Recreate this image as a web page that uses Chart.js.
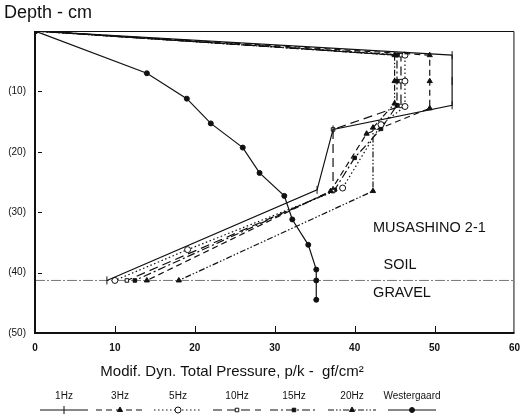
<!DOCTYPE html>
<html>
<head>
<meta charset="utf-8">
<script src="https://cdn.jsdelivr.net/npm/chart.js@4/dist/chart.umd.min.js"></script>
<style>
  html, body { margin: 0; padding: 0; background: #fff; }
</style>
</head>
<body>
<canvas id="pressureChart" width="529" height="416"></canvas>
<script>
// pressure (gf/cm2) vs depth (cm) for each excitation frequency
const hz1X = [0, 52.2, 52.2, 52.2, 37.3, 35.3, 9.0];
const hz1D = [0, 4.0, 8.3, 12.3, 16.3, 26.3, 41.3];
const hz3X = [0, 49.4, 49.4, 49.4, 41.5, 37.0, 14.0];
const hz3D = [0, 4.0, 8.3, 12.8, 17.0, 26.5, 41.3];
const hz5X = [0, 46.3, 46.3, 46.3, 43.3, 38.5, 19.1, 10.0];
const hz5D = [0, 4.0, 8.3, 12.5, 15.5, 26.0, 36.2, 41.3];
const hz10X = [0, 45.8, 45.8, 45.8, 37.3, 37.3, 11.5];
const hz10D = [0, 4.0, 8.3, 12.4, 16.3, 26.5, 41.3];
const hz15X = [0, 45.3, 45.3, 45.3, 43.3, 40.0, 37.5, 12.5];
const hz15D = [0, 4.0, 8.3, 12.3, 16.2, 21.0, 26.3, 41.3];
const hz20X = [0, 45.0, 45.0, 45.0, 42.3, 42.3, 18.0];
const hz20D = [0, 4.0, 8.3, 12.0, 16.0, 26.5, 41.3];
const westX = [0, 14.0, 19.0, 22.0, 26.0, 28.1, 31.2, 32.2, 34.2, 35.2, 35.2, 35.2];
const westD = [0, 7.0, 11.2, 15.3, 19.3, 23.5, 27.3, 31.2, 35.4, 39.5, 41.3, 44.5];

// soil / gravel boundary
const boundaryX = [0, 60];
const boundaryD = [41.3, 41.3];

const xTicks = [0, 10, 20, 30, 40, 50, 60];
const depthTicks = [0, 10, 20, 30, 40, 50];

const pts = (xs, ds) => xs.map((x, i) => ({ x: x, y: ds[i] }));

function series(label, xs, ds, dash, style, fill, radius, rotation) {
  return {
    label: label,
    data: pts(xs, ds),
    showLine: true,
    borderColor: '#111',
    borderWidth: 1.2,
    borderDash: dash,
    pointStyle: style,
    pointRadius: radius,
    pointRotation: rotation || 0,
    pointBackgroundColor: fill,
    pointBorderColor: '#111',
    pointBorderWidth: 1,
    tension: 0
  };
}

const datasets = [
  series('1Hz', hz1X, hz1D, [], 'line', '#111', 4, 90),
  series('3Hz', hz3X, hz3D, [6, 4], 'triangle', '#111', 3),
  series('5Hz', hz5X, hz5D, [1.5, 2.5], 'circle', '#fff', 3),
  series('10Hz', hz10X, hz10D, [9, 5], 'rect', '#fff', 2.5),
  series('15Hz', hz15X, hz15D, [8, 3, 2, 3], 'rect', '#111', 2.5),
  series('20Hz', hz20X, hz20D, [6, 2, 1.5, 2, 1.5, 2], 'triangle', '#111', 3),
  series('Westergaard', westX, westD, [], 'circle', '#111', 2.5),
  {
    label: 'boundary',
    data: pts(boundaryX, boundaryD),
    showLine: true,
    borderColor: '#777',
    borderWidth: 1,
    borderDash: [10, 2, 2, 2],
    pointRadius: 0
  }
];

// legend slots along the bottom
const legendCenters = [64, 120, 178, 237, 294, 352, 412];

const decorations = {
  id: 'decorations',
  afterDraw(chart) {
    const ctx = chart.ctx;
    const a = chart.chartArea;
    const xs = chart.scales.x, ys = chart.scales.y;
    ctx.save();

    // frame: heavy left and bottom, light top and right
    ctx.strokeStyle = '#111';
    ctx.lineWidth = 1;
    ctx.beginPath();
    ctx.moveTo(a.left, a.top + 0.5);
    ctx.lineTo(a.right - 0.5, a.top + 0.5);
    ctx.lineTo(a.right - 0.5, a.bottom);
    ctx.stroke();
    ctx.lineWidth = 2;
    ctx.beginPath();
    ctx.moveTo(a.left, a.top);
    ctx.lineTo(a.left, a.bottom);
    ctx.lineTo(a.right, a.bottom);
    ctx.stroke();

    // inner tick marks
    ctx.lineWidth = 1;
    ctx.beginPath();
    depthTicks.forEach(v => {
      if (v === 0 || v === 50) return;
      const y = Math.round(ys.getPixelForValue(v)) + 0.5;
      ctx.moveTo(a.left + 3, y);
      ctx.lineTo(a.left + 7, y);
    });
    xTicks.forEach(v => {
      if (v === 0 || v === 60) return;
      const x = Math.round(xs.getPixelForValue(v)) + 0.5;
      ctx.moveTo(x, a.bottom);
      ctx.lineTo(x, a.bottom - 7);
    });
    ctx.stroke();

    // titles and notes
    ctx.fillStyle = '#111';
    ctx.textBaseline = 'middle';
    ctx.textAlign = 'left';
    ctx.font = '18px "Liberation Sans", Arial, sans-serif';
    ctx.fillText('Depth - cm', 4, 13);
    ctx.textAlign = 'center';
    ctx.font = '15px "Liberation Sans", Arial, sans-serif';
    ctx.fillText('Modif. Dyn. Total Pressure, p/k -  gf/cm\u00B2', 232, 372);

    ctx.font = '14.5px "Liberation Sans", Arial, sans-serif';
    ctx.textAlign = 'left';
    ctx.fillText('MUSASHINO 2-1', 373, 228);
    ctx.textAlign = 'center';
    ctx.fillText('SOIL', 400, 265);
    ctx.fillText('GRAVEL', 402, 293);

    // legend: label over a line sample with its marker
    ctx.font = '10px "Liberation Sans", Arial, sans-serif';
    chart.data.datasets.slice(0, 7).forEach((ds, i) => {
      const cx = legendCenters[i];
      ctx.fillStyle = '#111';
      ctx.fillText(ds.label, cx, 396);
      ctx.strokeStyle = '#111';
      ctx.lineWidth = 1.2;
      ctx.setLineDash(ds.borderDash);
      ctx.beginPath();
      ctx.moveTo(cx - 24, 410);
      ctx.lineTo(cx + 24, 410);
      ctx.stroke();
      ctx.setLineDash([]);
      ctx.fillStyle = ds.pointBackgroundColor;
      ctx.lineWidth = 1;
      Chart.helpers.drawPoint(ctx, {
        pointStyle: ds.pointStyle,
        radius: ds.pointRadius,
        rotation: ds.pointRotation,
        borderWidth: 1
      }, cx, 410);
    });
    ctx.restore();
  }
};

new Chart(document.getElementById('pressureChart'), {
  type: 'scatter',
  data: { datasets: datasets },
  options: {
    responsive: false,
    animation: false,
    layout: { padding: { top: 31, right: 7, left: 0, bottom: 0 } },
    plugins: {
      legend: { display: false },
      tooltip: { enabled: false }
    },
    scales: {
      x: {
        type: 'linear',
        min: 0,
        max: 60,
        border: { display: false },
        grid: { display: false, drawTicks: false },
        afterBuildTicks: s => { s.ticks = xTicks.map(v => ({ value: v })); },
        afterFit: s => { s.height = 83; },
        ticks: {
          padding: 9,
          color: '#111',
          font: { family: '"Liberation Sans", Arial, sans-serif', size: 10, weight: 'bold' },
          maxRotation: 0
        }
      },
      y: {
        type: 'linear',
        reverse: true,
        min: 0,
        max: 50,
        border: { display: false },
        grid: { display: false, drawTicks: false },
        afterBuildTicks: s => { s.ticks = depthTicks.map(v => ({ value: v })); },
        afterFit: s => { s.width = 35; },
        ticks: {
          padding: 9,
          color: '#111',
          font: { family: '"Liberation Sans", Arial, sans-serif', size: 10 },
          callback: v => (v === 0 ? '' : '(' + v + ')')
        }
      }
    }
  },
  plugins: [decorations]
});
</script>
</body>
</html>
